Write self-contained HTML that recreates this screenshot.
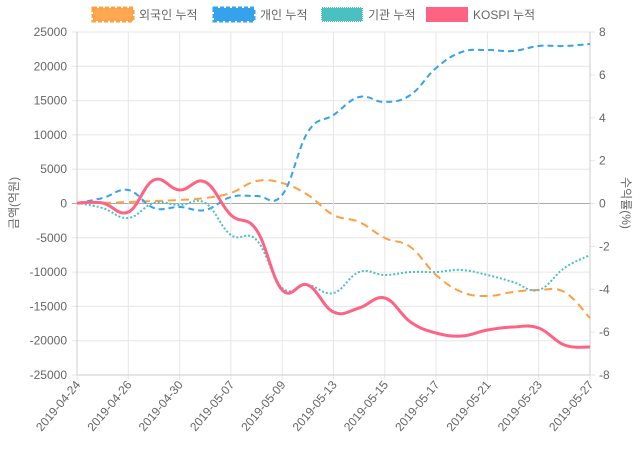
<!DOCTYPE html>
<html><head><meta charset="utf-8"><style>
body{margin:0;background:#fff}
svg{display:block;font-family:"Liberation Sans","Noto Sans CJK KR",sans-serif}
</style></head><body>
<svg id="s" width="640" height="450" xmlns="http://www.w3.org/2000/svg">
<g font-size="12" fill="#666">
<rect x="93" y="8" width="40" height="13" fill="#ff9f40" stroke="#ff9f40" stroke-dasharray="4,2" stroke-width="3" fill-opacity="0.9"/>
<text x="139" y="19">외국인 누적</text>
<rect x="214" y="8" width="40" height="13" fill="#36a2eb" stroke="#36a2eb" stroke-dasharray="4,2" stroke-width="3"/>
<text x="260" y="19">개인 누적</text>
<rect x="322" y="8" width="40" height="13" fill="#4bc0c0" stroke="#4bc0c0" stroke-dasharray="1,1" stroke-width="2"/>
<text x="368" y="19">기관 누적</text>
<rect x="427" y="8" width="40" height="13" fill="#ff6384" stroke="#ff6384" stroke-width="2"/>
<text x="473" y="19">KOSPI 누적</text>
</g>
<g id="grid"></g>
<g id="lines" fill="none"></g>
<text transform="translate(18,203) rotate(-90)" text-anchor="middle" font-size="12" fill="#666">금액(억원)</text>
<text transform="translate(622,203) rotate(90)" text-anchor="middle" font-size="12" fill="#666">수익률(%)</text>
</svg>
<script>
var NS="http://www.w3.org/2000/svg",g=document.getElementById("grid"),L=document.getElementById("lines");
function el(t,a,p,txt){var e=document.createElementNS(NS,t);for(var k in a)e.setAttribute(k,a[k]);if(txt!=null)e.textContent=txt;p.appendChild(e);return e;}
var x0=77,x1=590,y0=32,y1=375;
for(var i=0;i<11;i++){var y=y0+i*(y1-y0)/10,v=25000-5000*i;
 el("line",{x1:x0-5,x2:x1,y1:y,y2:y,stroke:v==0?"#aaa":"#e6e6e6","stroke-width":1},g);
 el("text",{x:x0-10,y:y+4,"text-anchor":"end","font-size":12,fill:"#666"},g,v);}
for(var i=0;i<9;i++){var y=y0+i*(y1-y0)/8;
 el("line",{x1:x1,x2:x1+5,y1:y,y2:y,stroke:"#e6e6e6"},g);
 el("text",{x:x1+9,y:y+4,"font-size":12,fill:"#666"},g,8-2*i);}
var d=["2019-04-24","2019-04-26","2019-04-30","2019-05-07","2019-05-09","2019-05-13","2019-05-15","2019-05-17","2019-05-21","2019-05-23","2019-05-27"];
for(var i=0;i<11;i++){var x=x0+i*(x1-x0)/10;
 el("line",{x1:x,x2:x,y1:y0,y2:y1+5,stroke:"#e6e6e6"},g);
 el("text",{transform:"translate("+(x+4)+","+(y1+10)+") rotate(-50)","text-anchor":"end","font-size":12,fill:"#666"},g,d[i]);}
el("line",{x1:x0,x2:x0,y1:y0,y2:y1,stroke:"#ccc"},g);
el("line",{x1:x1,x2:x1,y1:y0,y2:y1,stroke:"#ccc"},g);
el("line",{x1:x0,x2:x1,y1:y1,y2:y1,stroke:"#ccc"},g);
function path(ys){var dx=(x1-x0)/20,p=ys.map(function(y,i){return[x0+i*dx,y]});var s="M"+p[0];
 for(var i=0;i<p.length-1;i++){var a=p[i-1]||p[i],b=p[i],c=p[i+1],e=p[i+2]||c,t=0.2;
  s+=" C"+(b[0]+(c[0]-a[0])*t)+","+(b[1]+(c[1]-a[1])*t)+" "+(c[0]-(e[0]-b[0])*t)+","+(c[1]-(e[1]-b[1])*t)+" "+c;}return s;}
el("path",{d:path([203,203,202,201,200,198,193,181,183,195,215,222,238,247,275,292,296,292,290,292,318]),stroke:"#ff9f40","stroke-width":2,"stroke-dasharray":"8,5"},L);
el("path",{d:path([203,198,190,208,207,210,197,196,195,132,115,97,102,95,68,52,50,51,46,46,44]),stroke:"#36a2eb","stroke-width":2,"stroke-dasharray":"6,4"},L);
el("path",{d:path([203,208,218,203,205,203,235,240,288,285,293,272,275,272,272,270,275,282,290,268,255]),stroke:"#4bc0c0","stroke-width":2,"stroke-dasharray":"2,2"},L);
el("path",{d:path([203,203,212,180,190,182,215,230,290,285,312,308,298,322,333,336,330,327,328,345,347]),stroke:"#ff6384","stroke-width":3},L);
</script>
</body></html>
